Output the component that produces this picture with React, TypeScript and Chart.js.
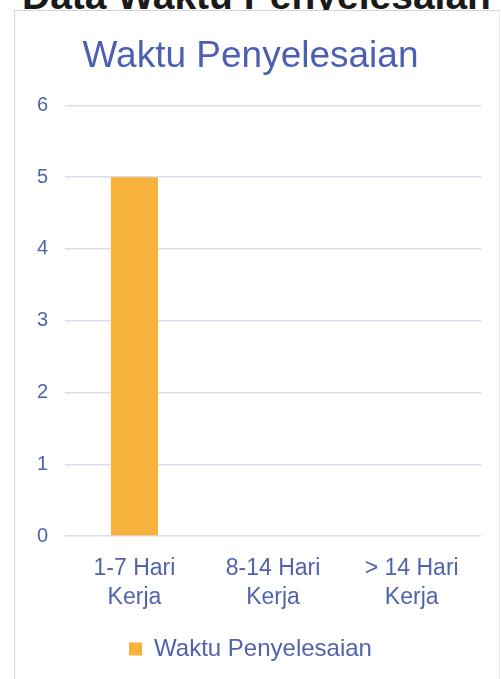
import React, { useEffect, useRef } from "react";
import { Chart, registerables } from "chart.js";

Chart.register(...registerables);

const categories: string[][] = [["1-7 Hari", "Kerja"], ["8-14 Hari", "Kerja"], ["> 14 Hari", "Kerja"]];
const seriesName = "Waktu Penyelesaian";
const seriesValues: number[] = [5, 0, 0];
const yTicks: number[] = [0, 1, 2, 3, 4, 5, 6];
const chartTitle = "Waktu Penyelesaian";
const pageHeading = "Data Waktu Penyelesaian Pengaduan";

const FONT = "'Liberation Sans', Arial, sans-serif";
const TEXT_BLUE = "#5163ad";

export default function App() {
  const ref = useRef<HTMLCanvasElement | null>(null);

  useEffect(() => {
    if (!ref.current) return;
    const chart = new Chart(ref.current, {
      type: "bar",
      data: {
        labels: categories,
        datasets: [
          {
            label: seriesName,
            data: seriesValues,
            backgroundColor: "#f7b23b",
            borderWidth: 0,
            categoryPercentage: 0.34,
            barPercentage: 1,
          },
        ],
      },
      options: {
        animation: false,
        responsive: false,
        maintainAspectRatio: false,
        layout: { padding: { left: 5, right: 18, top: 0, bottom: 8 } },
        plugins: {
          title: {
            display: true,
            text: chartTitle,
            color: "#4b5fb3",
            font: { family: FONT, size: 37, weight: "normal", lineHeight: 1.2 },
            padding: { top: 24, bottom: 26 },
          },
          legend: {
            display: true,
            position: "bottom",
            labels: {
              color: TEXT_BLUE,
              font: { family: FONT, size: 24 },
              boxWidth: 13,
              boxHeight: 13,
              padding: 15,
            },
          },
          tooltip: { enabled: false },
        },
        scales: {
          x: {
            grid: { display: false },
            border: { display: false },
            ticks: {
              color: TEXT_BLUE,
              font: { family: FONT, size: 23, lineHeight: 1.26 },
              padding: 10,
              maxRotation: 0,
            },
          },
          y: {
            min: yTicks[0],
            max: yTicks[yTicks.length - 1],
            afterBuildTicks: (axis: any) => {
              axis.ticks = yTicks.map((v) => ({ value: v }));
            },
            grid: { color: "#d9deea", lineWidth: 1.5, drawTicks: false },
            border: { display: false },
            ticks: {
              color: TEXT_BLUE,
              font: { family: FONT, size: 20 },
              padding: 17,
            },
          },
        },
      },
    });
    return () => chart.destroy();
  }, []);

  return (
    <div style={{ position: "fixed", left: 0, top: 0, width: 501, height: 679, background: "#ffffff", overflow: "hidden" }}>
      <div
        style={{
          position: "absolute",
          left: 22,
          top: -24,
          fontFamily: FONT,
          fontWeight: "bold",
          fontSize: 39,
          lineHeight: "40px",
          color: "#1a1a1a",
          whiteSpace: "nowrap",
        }}
      >
        {pageHeading}
      </div>
      <div
        style={{
          position: "absolute",
          left: 14,
          top: 10,
          width: 484,
          height: 668,
          borderLeft: "1px solid #cfd4e0",
          borderTop: "1px solid #cfd4e0",
          borderRight: "1px solid #e4e7ee",
          background: "#ffffff",
        }}
      >
        <canvas ref={ref} width={484} height={668} style={{ display: "block", width: 484, height: 668 }} />
      </div>
    </div>
  );
}
